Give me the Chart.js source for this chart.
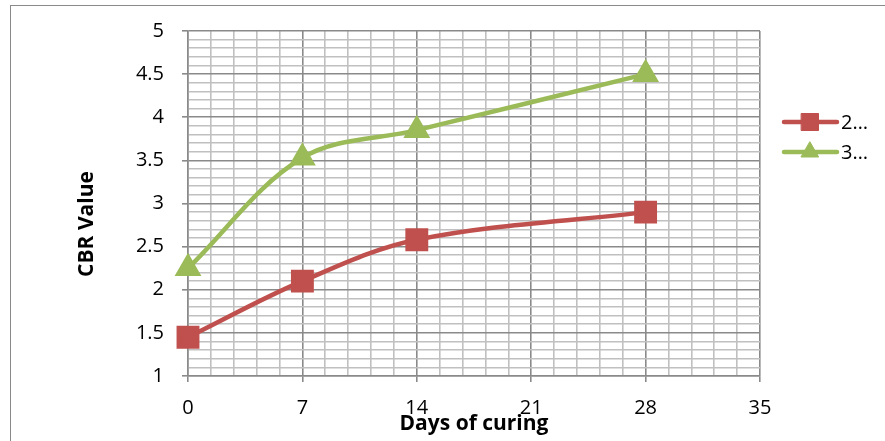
<!DOCTYPE html>
<html>
<head>
<meta charset="utf-8">
<script src="https://cdn.jsdelivr.net/npm/chart.js@4"></script>
<style>
  body { margin: 0; background: #fff; }
  #wrap { position: relative; width: 885px; height: 441px; }
  #frame { position: absolute; left: 10px; top: 5px; right: 0; bottom: -5px; border-left: 1.5px solid #8a8a8a; border-top: 1.5px solid #8a8a8a; pointer-events: none; }
</style>
</head>
<body>
<div id="wrap">
  <canvas id="myChart" width="885" height="441"></canvas>
  <div id="frame"></div>
</div>
<script>
// Chart data
const days = [0, 7, 14, 28];
const seriesLabels = ['2\u2026', '3\u2026'];
const cbr2 = [1.45, 2.1, 2.58, 2.9];
const cbr3 = [2.25, 3.53, 3.85, 4.5];
const xTickLabels = [0, 7, 14, 21, 28, 35];
const yTickLabels = [1, 1.5, 2, 2.5, 3, 3.5, 4, 4.5, 5];

const RED = '#C0504D';
const GREEN = '#9BBB59';
const FONT = "'Open Sans', 'Liberation Sans', sans-serif";

function near(v, list) {
    return list.some(t => Math.abs(v - t) < 1e-6);
}

// axis titles and legend drawn at fixed spots, like the original
const extras = {
    id: 'extras',
    afterDraw(chart) {
        const c = chart.ctx;
        c.save();
        c.fillStyle = '#000';
        c.font = 'bold 21px ' + FONT;
        c.textAlign = 'center';
        c.textBaseline = 'middle';
        c.fillText('Days of curing', (chart.chartArea.left + chart.chartArea.right) / 2, 424);
        c.translate(87, 224);
        c.rotate(-Math.PI / 2);
        c.fillText('CBR Value', 0, 0);
        c.restore();

        // legend
        const rows = [
            { y: 122, color: RED, style: 'rect', r: 12, label: seriesLabels[0] },
            { y: 152, color: GREEN, style: 'triangle', r: 10, label: seriesLabels[1] }
        ];
        c.save();
        rows.forEach(row => {
            c.strokeStyle = row.color;
            c.lineWidth = 4.5;
            c.lineCap = 'round';
            c.beginPath();
            c.moveTo(784, row.y);
            c.lineTo(837, row.y);
            c.stroke();
            c.fillStyle = row.color;
            c.lineWidth = 1;
            Chart.helpers.drawPoint(c, { pointStyle: row.style, radius: row.r, borderWidth: 1 }, 810, row.y);
            c.fill();
            c.fillStyle = '#000';
            c.font = '20px ' + FONT;
            c.textAlign = 'left';
            c.textBaseline = 'middle';
            c.fillText(row.label, 841, row.y + 1);
        });
        c.restore();
    }
};

const ctx = document.getElementById('myChart').getContext('2d');
const myChart = new Chart(ctx, {
    type: 'line',
    data: {
        datasets: [
            {
                label: seriesLabels[0],
                data: days.map((d, i) => ({ x: d, y: cbr2[i] })),
                borderColor: RED,
                backgroundColor: RED,
                borderWidth: 4.5,
                pointStyle: 'rect',
                pointRadius: 13,
                pointHoverRadius: 13,
                tension: 0.35,
                clip: false
            },
            {
                label: seriesLabels[1],
                data: days.map((d, i) => ({ x: d, y: cbr3[i] })),
                borderColor: GREEN,
                backgroundColor: GREEN,
                borderWidth: 4.5,
                pointStyle: 'triangle',
                pointRadius: 11,
                pointHoverRadius: 11,
                tension: 0.35,
                clip: false
            }
        ]
    },
    options: {
        responsive: false,
        animation: false,
        events: [],
        layout: { padding: { left: 0, top: 31, right: 125, bottom: 0 } },
        plugins: {
            legend: { display: false },
            tooltip: { enabled: false }
        },
        scales: {
            x: {
                type: 'linear',
                min: 0,
                max: 35,
                afterFit: s => { s.height = 65; },
                border: { color: '#8a8a8a', width: 1.5 },
                grid: {
                    color: c => near(c.tick.value, xTickLabels) ? '#8a8a8a' : '#c0c0c0',
                    tickColor: c => near(c.tick.value, xTickLabels) ? '#8a8a8a' : 'rgba(0,0,0,0)',
                    lineWidth: 1.6,
                    tickLength: 6
                },
                ticks: {
                    stepSize: 1.4,
                    maxTicksLimit: 100,
                    autoSkip: false,
                    maxRotation: 0,
                    padding: 14,
                    color: '#000',
                    font: { family: FONT, size: 20 },
                    callback: v => near(v, xTickLabels) ? String(Math.round(v)) : ''
                }
            },
            y: {
                min: 1,
                max: 5,
                afterFit: s => { s.width = 188; },
                border: { color: '#8a8a8a', width: 1.5 },
                grid: {
                    color: c => near(c.tick.value, yTickLabels) ? '#8a8a8a' : '#c0c0c0',
                    tickColor: c => near(c.tick.value, yTickLabels) ? '#8a8a8a' : 'rgba(0,0,0,0)',
                    lineWidth: 1.6,
                    tickLength: 6
                },
                ticks: {
                    stepSize: 0.1,
                    maxTicksLimit: 100,
                    autoSkip: false,
                    padding: 18,
                    color: '#000',
                    font: { family: FONT, size: 20 },
                    callback: v => near(v, yTickLabels) ? String(Math.round(v * 10) / 10) : ''
                }
            }
        }
    },
    plugins: [extras]
});
</script>
</body>
</html>
